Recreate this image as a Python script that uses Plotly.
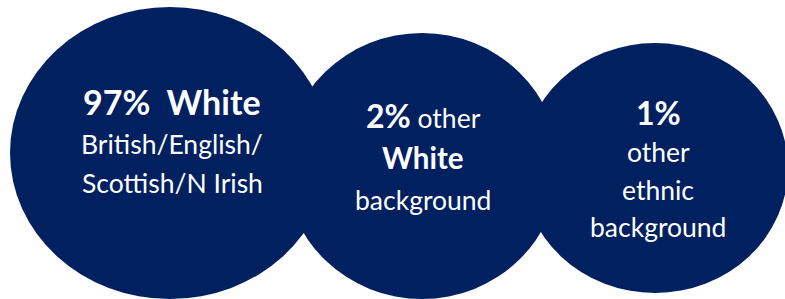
import plotly.graph_objects as go

# ---- data ----
percent = [97, 2, 1]
bold_tail = ["  White", "", ""]
line_texts = [
    ["British/English/", "Scottish/N Irish"],
    ["White", "background"],
    ["other", "ethnic", "background"],
]
line_bold = [
    [False, False],
    [True, False],
    [False, False, False],
]
first_line_tail = ["", " other", ""]

# ---- layout (pixel geometry) ----
W, H = 785, 299
circles = [  # cx, cy, rx, ry
    (170, 153, 160, 146),
    (422, 166, 137, 133),
    (655, 168, 133, 125),
]
text_x = [172, 423, 658]
first_baseline = [115, 128, 125]
line_gap = [39, 41, 37.5]
big_size = [34, 32, 32]
small_size = [26.5, 26.5, 26.5]
bold_small_size = 29.5
NAVY = "#002060"
FONT = "Lato"

fig = go.Figure()
shapes = []
for cx, cy, rx, ry in circles:
    shapes.append(dict(type="circle", xref="x", yref="y",
                       x0=cx - rx, x1=cx + rx, y0=cy - ry, y1=cy + ry,
                       fillcolor=NAVY, line=dict(width=0), layer="below"))

ann = []
def add_line(x, baseline, text, size):
    ann.append(dict(x=x, y=baseline - 0.387 * size, xref="x", yref="y",
                    text=text, showarrow=False, xanchor="center", yanchor="middle",
                    font=dict(family=FONT, size=size, color="white")))

for i, p in enumerate(percent):
    x = text_x[i]
    b = first_baseline[i]
    if first_line_tail[i]:
        add_line(x, b, f"<b>{p}%{bold_tail[i]}</b>"
                 f"<span style='font-size:{small_size[i]}px'>{first_line_tail[i]}</span>",
                 big_size[i])
    else:
        add_line(x, b, f"<b>{p}%{bold_tail[i]}</b>", big_size[i])
    for j, t in enumerate(line_texts[i]):
        if line_bold[i][j]:
            add_line(x, b + line_gap[i] * (j + 1), f"<b>{t}</b>", bold_small_size)
        else:
            add_line(x, b + line_gap[i] * (j + 1), t, small_size[i])

fig.add_trace(go.Scatter(x=[0, W], y=[0, H], mode="markers",
                         marker=dict(opacity=0), hoverinfo="skip", showlegend=False))
fig.update_layout(
    width=W, height=H, margin=dict(l=0, r=0, t=0, b=0),
    paper_bgcolor="white", plot_bgcolor="white",
    xaxis=dict(range=[0, W], visible=False, fixedrange=True),
    yaxis=dict(range=[H, 0], visible=False, fixedrange=True),
    shapes=shapes, annotations=ann, showlegend=False,
)
fig.write_html(
    "out.html",
    config={"displayModeBar": False},
    post_script="document.body.style.margin='0';document.body.style.overflow='hidden';",
)
